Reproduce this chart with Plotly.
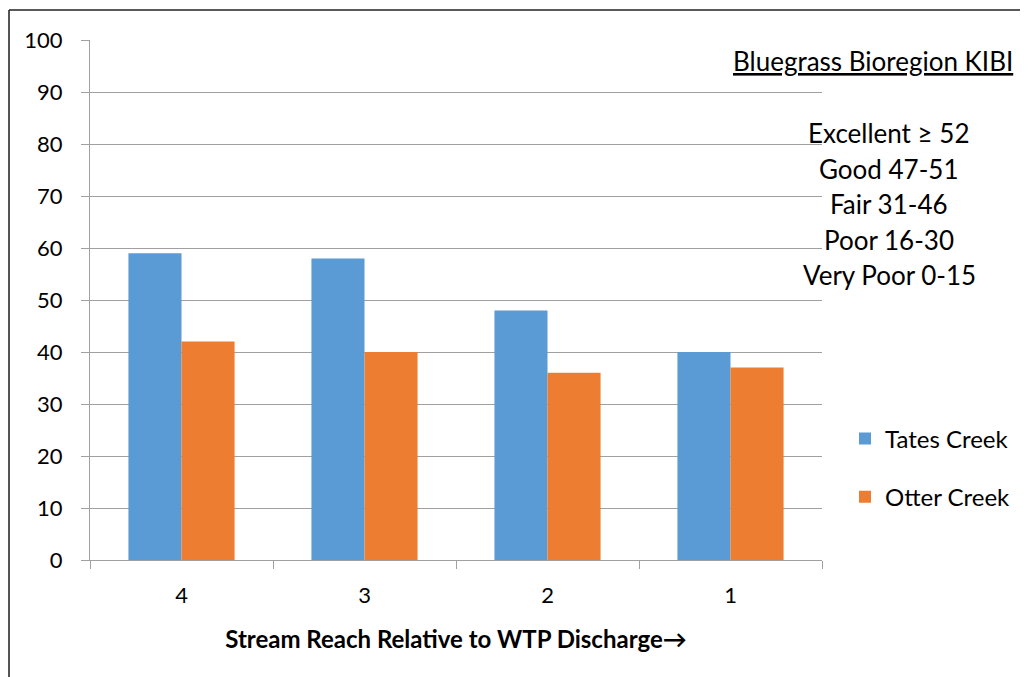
import plotly.graph_objects as go

categories = ["4", "3", "2", "1"]
tates_creek = [59, 58, 48, 40]
otter_creek = [42, 40, 36, 37]
y_ticks = list(range(0, 101, 10))
legend_names = ["Tates Creek", "Otter Creek"]
kibi_title = "Bluegrass Bioregion KIBI"
kibi_classes = ["Excellent ≥ 52", "Good 47-51", "Fair 31-46", "Poor 16-30", "Very Poor 0-15"]

FONT = "Lato"
OFF = 8  # default page body margin
W, H = 1028 - OFF, 677 - OFF
# plot area in page pixels: x 90..822, y 40..560
PX0, PX1, PY0, PY1 = 90, 822, 40, 560
L, T = PX0 - OFF, PY0 - OFF
R, B = W - (PX1 - OFF), H - (PY1 - OFF)
pw, ph = PX1 - PX0, PY1 - PY0


def px_x(px):
    return (px - PX0) / pw


def px_y(py):
    return (PY1 - py) / ph


fig = go.Figure()
fig.add_trace(go.Bar(x=categories, y=tates_creek, name=legend_names[0],
                     marker=dict(color="#5b9bd5", line=dict(width=0)),
                     legendgroup="a"))
fig.add_trace(go.Bar(x=categories, y=otter_creek, name=legend_names[1],
                     marker=dict(color="#ed7d31", line=dict(width=0)),
                     legendgroup="b"))

annotations = [dict(text="<u>" + kibi_title + "</u>", x=px_x(873), y=px_y(61),
                    xref="paper", yref="paper", showarrow=False,
                    font=dict(family=FONT, size=26, color="#000"),
                    xanchor="center", yanchor="middle")]
ys = [133, 169, 204, 240, 275]
for t, yy in zip(kibi_classes, ys):
    annotations.append(dict(text=t, x=px_x(889), y=px_y(yy), xref="paper", yref="paper",
                            showarrow=False, font=dict(family=FONT, size=26, color="#000"),
                            xanchor="center", yanchor="middle"))

shapes = [
    dict(type="line", xref="paper", yref="paper", x0=px_x(OFF + 1), x1=px_x(OFF + 1),
         y0=px_y(720), y1=px_y(10), line=dict(color="#555", width=2)),
    dict(type="line", xref="paper", yref="paper", x0=px_x(OFF + 1), x1=px_x(1060),
         y0=px_y(10), y1=px_y(10), line=dict(color="#222", width=1.5)),
]

fig.update_layout(
    width=W, height=H,
    margin=dict(l=L, r=R, t=T, b=B, autoexpand=False),
    paper_bgcolor="white", plot_bgcolor="white",
    barmode="group", bargap=0.42, bargroupgap=0,
    font=dict(family=FONT, size=20, color="#000"),
    showlegend=True,
    legend=dict(x=px_x(845), y=px_y(468), xanchor="left", yanchor="middle",
                font=dict(family=FONT, size=24, color="#000"),
                tracegroupgap=24, traceorder="grouped",
                itemwidth=30, bgcolor="rgba(0,0,0,0)"),
    annotations=annotations,
    shapes=shapes,
    xaxis=dict(
        type="category", showgrid=False, showline=True, linecolor="#a0a0a0", linewidth=1.3,
        ticks="outside", tickson="boundaries", ticklen=8, tickcolor="#a0a0a0",
        tickfont=dict(family=FONT, size=22, color="#000"), ticklabelstandoff=15,
        title=dict(text="<b>Stream Reach Relative to WTP Discharge→</b>",
                   font=dict(family=FONT, size=24, color="#000"), standoff=24),
    ),
    yaxis=dict(
        range=[0, 100], tickvals=y_ticks, showgrid=True, gridcolor="#a0a0a0", gridwidth=1.3,
        showline=True, linecolor="#a0a0a0", linewidth=1.3,
        ticks="outside", ticklen=8, tickcolor="#a0a0a0",
        tickfont=dict(family=FONT, size=22, color="#000"), ticklabelstandoff=14,
        zeroline=False,
    ),
)

fig.write_html("out.html")
